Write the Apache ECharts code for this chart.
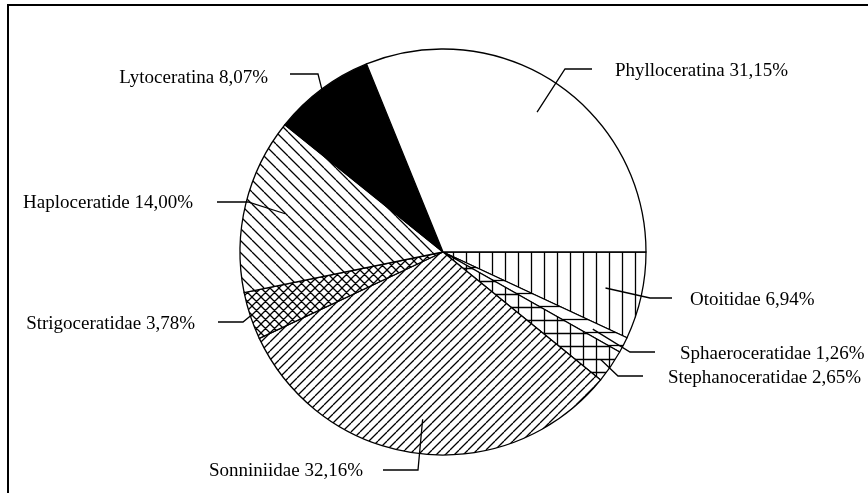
<!DOCTYPE html>
<html><head><meta charset="utf-8">
<script src="https://cdn.jsdelivr.net/npm/echarts@6/dist/echarts.min.js"></script>
<style>html,body{margin:0;padding:0;background:#fff}#c{width:868px;height:493px}</style>
</head><body><div id="c"></div>
<script>
// ---- data ----
const categories = ['Otoitidae','Sphaeroceratidae','Stephanoceratidae','Sonniniidae','Strigoceratidae','Haploceratide','Lytoceratina','Phylloceratina'];
const values = [6.94, 1.26, 2.65, 32.16, 3.78, 14.00, 8.07, 31.15];

// ---- layout / style ----
const CX = 443, CY = 252, R = 203;
const labelCfg = [
  {align:'left',  x:690, y:300, ly:298, gap:18, len:22, frac:0.82},
  {align:'left',  x:680, y:354, ly:352, gap:25, len:25, frac:0.83},
  {align:'left',  x:668, y:378, ly:376, gap:25, len:25, frac:0.94},
  {align:'right', x:363, y:471, ly:470, gap:20, len:35, frac:0.83},
  {align:'right', x:195, y:324, ly:322, gap:23, len:25, frac:1.0},
  {align:'right', x:193, y:203, ly:202, gap:24, len:31, frac:0.80},
  {align:'right', x:268, y:78,  ly:74,  gap:22, len:28, frac:1.0},
  {align:'left',  x:615, y:71,  ly:69,  gap:23, len:27, frac:0.83}
];

function pat(w, h, draw, bg) {
  const c = document.createElement('canvas'); c.width = w; c.height = h;
  const g = c.getContext('2d');
  g.fillStyle = bg || '#fff'; g.fillRect(0, 0, w, h);
  g.strokeStyle = '#000'; g.lineWidth = 1.3;
  g.beginPath(); draw(g, w, h); g.stroke();
  return {image: c, repeat: 'repeat'};
}
const back = p => (g) => { for (let k = -1; k <= 1; k++) { g.moveTo(k*p, 0); g.lineTo(k*p + p, p); } };
const fwd  = p => (g) => { for (let k = -1; k <= 1; k++) { g.moveTo(k*p, p); g.lineTo(k*p + p, 0); } };
const fills = [
  pat(13, 13, (g) => { g.moveTo(11.5, 0); g.lineTo(11.5, 13); }),                 // vertical
  pat(13, 13, (g) => { g.moveTo(0, 7.5); g.lineTo(13, 7.5); }),                    // horizontal
  pat(13, 13, (g) => { g.moveTo(11.5, 0); g.lineTo(11.5, 13); g.moveTo(0, 8.5); g.lineTo(13, 8.5); }), // grid
  pat(9, 9, fwd(9)),                                                               // "/"
  pat(9, 9, (g) => { back(9)(g); fwd(9)(g); }),                                    // cross
  pat(12, 12, back(12)),                                                           // "\"
  '#000',
  '#fff'
];

const total = values.reduce((a, b) => a + b, 0);
const mids = []; { let cum = 0; values.forEach(v => { mids.push((cum + v / 2) / total * Math.PI * 2); cum += v; }); }

// leader lines, computed from the pie geometry (slice mid-angles) and label anchors
const leaders = labelCfg.map((c, i) => {
  const a = mids[i];
  const px = CX + c.frac * R * Math.cos(a), py = CY + c.frac * R * Math.sin(a);
  const s = c.align === 'left' ? -1 : 1;
  const ex = c.x + s * c.gap, bx = ex + s * c.len;
  return {
    type: 'polyline', silent: true, z: 100,
    shape: {points: [[px, py], [bx, c.ly], [ex, c.ly]]},
    style: {stroke: '#000', lineWidth: 1.3, fill: null}
  };
});

const chart = echarts.init(document.getElementById('c'), null, {renderer: 'canvas'});
chart.setOption({
  animation: false,
  backgroundColor: '#fff',
  graphic: [{
    type: 'polyline', silent: true, z: 100,
    shape: {points: [[8, 493], [8, 5], [868, 5]]},
    style: {stroke: '#000', lineWidth: 2, fill: null}
  }].concat(leaders),
  series: [{
    type: 'pie',
    center: [CX, CY], radius: R,
    startAngle: 0, clockwise: true,
    avoidLabelOverlap: false, minShowLabelAngle: 0,
    itemStyle: {borderColor: '#000', borderWidth: 1.3},
    emphasis: {disabled: true},
    label: {
      show: true, position: 'outside', color: '#000',
      fontFamily: '"Liberation Serif", "Times New Roman", serif', fontSize: 19,
      formatter: p => p.name + ' ' + p.value.toFixed(2).replace('.', ',') + '%'
    },
    labelLine: {show: false},
    labelLayout: function (params) {
      const c = labelCfg[params.dataIndex];
      return {x: c.x, y: c.y, align: c.align, verticalAlign: 'middle'};
    },
    data: categories.map((n, i) => ({name: n, value: values[i], itemStyle: {color: fills[i]}}))
  }]
});
</script></body></html>
